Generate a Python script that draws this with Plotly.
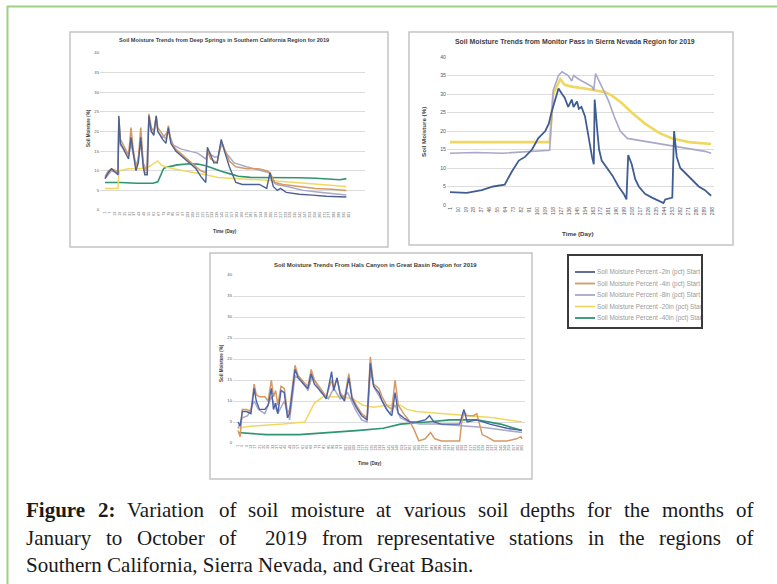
import plotly.graph_objects as go

W, H = 777, 584

# ---------------- DATA ----------------
series_names = ["Soil Moisture Percent -2in (pct) Start of Day Values",
                "Soil Moisture Percent -4in (pct) Start of Day Values",
                "Soil Moisture Percent -8in (pct) Start of Day Values",
                "Soil Moisture Percent -20in (pct) Start of Day Values",
                "Soil Moisture Percent -40in (pct) Start of Day Values"]
y_ticks = [0, 5, 10, 15, 20, 25, 30, 35, 40]

# Panel 1: Deep Springs (Southern California)
ds_days_2in = [1,5,9,15,17,18,20,25,30,33,36,39,42,45,48,50,53,55,58,61,64,66,72,76,79,82,88,96,105,113,119,125,127,131,135,139,144,148,154,162,170,191,200,204,208,213,217,224,240,256,273,298]
ds_2in = [8,9.5,10.5,9.5,9,24,17,15,13,18.5,14,10,12,18.5,11,9,9,24,20,19,24,20,18,17,21,17,15,13.5,12,10.5,8.5,7,16,14,12,12,18,15,11,7,6.5,6.5,5.5,9.5,6,5,5.5,4.5,4,3.8,3.5,3.3]
ds_days_4in = [1,5,9,15,17,18,20,25,30,33,36,39,42,45,48,50,53,55,58,61,64,66,72,76,79,82,88,96,105,113,119,125,127,131,135,139,144,148,154,162,175,190,200,204,210,220,240,260,280,298]
ds_4in = [8.5,10,10.5,10,9.5,23.5,18,16,14,21,15,11,13,21,12,9.5,9.5,24.5,21,20,24,21,19,18,21.5,17.5,15.5,14,12.5,11,10,9.5,15,13,12.5,12,17.5,15.5,12.5,11,10.5,10.5,10,9.5,7,6.5,6,5.5,5.3,5]
ds_days_8in = [1,5,9,15,17,18,20,25,30,33,36,40,45,48,52,55,58,61,64,66,72,79,85,95,105,115,125,128,132,136,140,145,150,160,175,195,203,206,212,225,245,265,285,298]
ds_8in = [8,9,10,9.5,9,22,16.5,15.5,14,17,14,11,17,12,10,23,20,19.5,23,20,18.5,20,16.5,15.5,15,14.5,13,15,14,13.5,13.5,17,14.5,12,11,10,9.5,7.5,6.5,6,5,4.5,4,3.8]
ds_days_20in = [1,10,17,18,19,30,45,55,62,66,70,75,85,100,115,125,140,160,180,200,220,240,260,280,298]
ds_20in = [5.5,5.5,5.5,9,10,10.5,10.5,11,12,12.5,11.5,11,10.5,10,9.5,9,8.3,8,7.8,7.6,7.3,7,6.7,6.3,6]
ds_days_40in = [1,20,40,60,66,70,73,75,80,90,105,115,125,135,145,155,165,180,200,220,240,260,270,280,290,298]
ds_40in = [7,7,6.8,6.8,7.2,9,10.5,10.8,11,11.5,11.8,11.7,11.3,10.5,9.8,9.2,8.6,8.3,8.3,8.3,8.2,8.1,8,7.8,7.7,8]
ds_xticks = list(range(1, 302, 6))

# Panel 2: Monitor Pass (Sierra Nevada)
mp_days_2in = [1,20,37,50,63,71,79,86,94,101,109,113,116,120,124,128,131,135,139,141,145,147,150,154,158,162,164,165,168,170,173,185,192,198,201,203,207,211,215,222,230,239,243,245,251,253,255,258,262,268,275,283,290,297]
mp_2in = [3.5,3.3,4,5,5.5,9,12,13,15,18,20,22,25,28,31.5,30,29,26.5,28.5,26.5,28,26,26.5,24,18,13,11,28.5,20,15,12,8,5,3,1.5,13.5,11,7,5,3,2,1,0.5,1.5,2,2,20,13,10,8.5,7,5,4,2.5]
mp_days_8in = [1,30,60,90,114,118,124,128,135,139,141,147,154,162,164,166,169,175,181,187,194,202,215,230,241,253,268,279,290,297]
mp_8in = [14,14.2,14,14.5,14.8,31,35,36,35,33.5,35,34,33,32,31,35.5,34,31,28,24,20,18,17.5,17,16.5,16,15.5,15,14.5,14]
mp_days_20in = [1,60,114,118,124,126,131,139,154,167,177,185,196,207,222,238,253,272,297]
mp_20in = [17,17,17,30,33,34,32.5,32,31.5,31,30.5,29.5,27.5,25,22,19.5,18,17,16.5]
mp_xticks = list(range(1, 299, 9))

# Panel 3: Hals Canyon (Great Basin)
hc_days_2in = [1,3,5,9,13,16,18,21,26,29,32,34,36,38,41,44,47,49,54,57,62,66,69,72,79,83,88,90,93,96,100,104,107,111,116,121,124,127,132,135,139,144,147,150,155,161,167,175,179,183,190,198,207,211,214,223,235,251,265]
hc_2in = [5,4,7.5,7.5,7,13,10,8,8,9,13,8,9.5,7,12.5,12,6,7,17.5,15.5,14,13,16.5,14,12,10.5,17,12.5,15.5,11.5,10,15.5,10.5,8.5,6.5,5.5,19,13.5,12,10,8,6.5,12,7,6,5,5,5.5,6.5,5,4.5,4.5,4.5,8,5,5.5,4.5,3.5,3]
hc_days_4in = [1,3,5,9,13,16,18,21,26,29,32,34,36,38,41,44,47,49,54,57,62,66,69,72,79,83,88,90,93,96,100,104,107,111,116,121,124,127,132,135,139,144,147,150,155,161,165,169,175,180,184,190,198,207,209,211,214,220,223,228,232,239,251,260,264,265]
hc_4in = [3,1.5,8,8,7.5,14,11.5,11,11,10,15,11,12.5,9,13.5,13,7,8,18.5,16,14.5,13.5,17.5,15,12.5,11,15,13,15.5,12,10.5,16.5,11,9,7,6,20.5,14,13,11,9,8,15,9,7,5,3,0.5,1,2.5,1,0.5,0.5,0.5,5,7.5,6.5,6.5,7,2,1.5,0.5,0.5,1,1.5,1]
hc_days_8in = [1,5,10,16,20,26,32,38,44,49,54,60,66,70,78,85,90,96,103,110,116,121,124,128,135,142,147,152,160,170,185,200,215,230,250,265]
hc_8in = [3.5,6,6.5,10,8,7,11,7,10,5.5,16,15,12.5,16,12,10.5,13,10.5,12,8,5.5,5,17,13,10,7,9,6,5,4.5,4.5,4.3,4,3.7,3,2.5]
hc_days_20in = [1,12,43,63,67,72,80,99,108,117,127,139,152,158,167,189,214,239,265]
hc_20in = [3.5,4,4.5,5,7,9.5,11,11,10.5,9,8.5,9,9,8,7.5,7,6.5,6,5]
hc_days_40in = [1,27,58,90,114,136,152,177,198,223,245,265]
hc_40in = [2.5,2,2,2.5,3,3.5,4.5,5,5.5,5.5,4.5,3]
hc_xticks = list(range(1, 266, 4))

panel_titles = ["Soil Moisture Trends from Deep Springs in Southern California Region for 2019",
                "Soil Moisture Trends from Monitor Pass in Sierra Nevada Region for 2019",
                "Soil Moisture Trends From Hals Canyon in Great Basin Region for 2019"]
x_title = "Time (Day)"
y_title = "Soil Moisture (%)"
caption_label = "Figure 2:"
caption_lines = ["Variation of soil moisture at various soil depths for the months of",
                 "January to October of  2019 from representative stations in the regions of",
                 "Southern California, Sierra Nevada, and Great Basin."]

# ---------------- STYLE ----------------
C2, C4, C8, C20, C40 = "#4d6190", "#d49a66", "#aaa8c8", "#f0d860", "#2f9470"
colors = [C2, C4, C8, C20, C40]
GRID = "#dcdcdc"
TXT = "#595959"
FONT = "Liberation Sans"
SERIF = "Liberation Serif"

def fx(x):
    return x / W

def fy(y):
    return 1 - y / H

fig = go.Figure()

def add(days, vals, axis, color, width, name):
    fig.add_trace(go.Scatter(x=days, y=vals, mode="lines", xaxis="x" + axis, yaxis="y" + axis,
                             line=dict(color=color, width=width), name=name, showlegend=False,
                             hoverinfo="skip"))

# panel 1
add(ds_days_40in, ds_40in, "", C40, 1.6, series_names[4])
add(ds_days_20in, ds_20in, "", C20, 1.5, series_names[3])
add(ds_days_8in, ds_8in, "", C8, 1.5, series_names[2])
add(ds_days_4in, ds_4in, "", C4, 1.5, series_names[1])
add(ds_days_2in, ds_2in, "", C2, 1.4, series_names[0])
# panel 2
add(mp_days_20in, mp_20in, "2", C20, 2.6, series_names[3])
add(mp_days_8in, mp_8in, "2", C8, 1.6, series_names[2])
add(mp_days_2in, mp_2in, "2", "#3f5c93", 1.8, series_names[0])
# panel 3
add(hc_days_40in, hc_40in, "3", C40, 1.6, series_names[4])
add(hc_days_20in, hc_20in, "3", C20, 1.5, series_names[3])
add(hc_days_8in, hc_8in, "3", C8, 1.5, series_names[2])
add(hc_days_4in, hc_4in, "3", C4, 1.5, series_names[1])
add(hc_days_2in, hc_2in, "3", "#4a62a8", 1.4, series_names[0])

def xaxis(x0, x1, rng, ticks, fs, anchor):
    return dict(domain=[fx(x0), fx(x1)], range=rng, tickvals=ticks, ticktext=[str(t) for t in ticks],
                tickangle=-90, tickfont=dict(size=fs, color=TXT, family=FONT), showgrid=False,
                zeroline=False, showline=False, ticks="", automargin=False, fixedrange=True,
                anchor=anchor)

def yaxis(ytop, ybot, anchor, fs):
    return dict(domain=[fy(ybot), fy(ytop)], range=[0, 40], tickvals=y_ticks,
                tickfont=dict(size=fs, color=TXT, family=FONT), showgrid=True, gridcolor=GRID,
                gridwidth=1, zeroline=False, showline=False, ticks="", automargin=False,
                anchor=anchor, fixedrange=True)

p1 = (348 - 105) / 299
p2 = (712 - 450) / 297
p3 = (522 - 238) / 264

fig.update_layout(
    width=W, height=H, margin=dict(l=0, r=0, t=0, b=0),
    paper_bgcolor="white", plot_bgcolor="white", showlegend=False,
    xaxis=xaxis(100, 365, [1 - 5 / p1, 300 + 17 / p1], ds_xticks, 3.6, "y"),
    yaxis=yaxis(53, 210, "x", 4.2),
    xaxis2=xaxis(447, 714, [1 - 3 / p2, 298 + 2 / p2], mp_xticks, 5, "y2"),
    yaxis2=yaxis(57, 205, "x2", 5.2),
    xaxis3=xaxis(233, 525, [1 - 5 / p3, 265 + 3 / p3], hc_xticks, 3.6, "y3"),
    yaxis3=yaxis(275, 443, "x3", 4.2),
)

shapes = []
ann = []

# green outer border
shapes.append(dict(type="line", xref="paper", yref="paper", x0=fx(7.5), x1=fx(7.5), y0=fy(6), y1=fy(590),
                   line=dict(color="#9dcf84", width=2)))
shapes.append(dict(type="line", xref="paper", yref="paper", x0=fx(7), x1=fx(790), y0=fy(6.5), y1=fy(6.5),
                   line=dict(color="#9dcf84", width=2)))

# panel boxes
for (x0, y0, x1, y1) in [(70, 32, 388, 247), (409, 32, 733, 245), (210, 253, 532, 479)]:
    shapes.append(dict(type="rect", xref="paper", yref="paper", x0=fx(x0), x1=fx(x1), y0=fy(y1), y1=fy(y0),
                       line=dict(color="#c4c4c4", width=1.5), fillcolor="rgba(0,0,0,0)"))

def text(x, y, s, size, color=TXT, bold=False, angle=0, family=FONT, xanchor="center", width=None):
    d = dict(x=fx(x), y=fy(y), xref="paper", yref="paper", showarrow=False,
             text=("<b>%s</b>" % s) if bold else s, textangle=angle,
             font=dict(size=size, color=color, family=family),
             xanchor=xanchor, yanchor="middle")
    if width is not None:
        d["width"] = width
        d["align"] = "left"
    ann.append(d)

text(224, 40, panel_titles[0], 5.6, "#404040", True)
text(575, 42, panel_titles[1], 6.9, "#404040", True)
text(375, 265, panel_titles[2], 6.0, "#404040", True)
text(225, 231, x_title, 4.6, "#404040", True)
text(578, 233, x_title, 6.2, "#404040", True)
text(370, 463, x_title, 4.6, "#404040", True)
text(88, 128, y_title, 4.6, "#404040", True, -90)
text(423, 132, y_title, 6.2, "#404040", True, -90)
text(221, 363, y_title, 4.6, "#404040", True, -90)

# legend box
shapes.append(dict(type="rect", xref="paper", yref="paper", x0=fx(568), x1=fx(702), y0=fy(328), y1=fy(255),
                   line=dict(color="#3a3a3a", width=2), fillcolor="white"))
for i, (nm, col) in enumerate(zip(series_names, colors)):
    yy = 272 + 11.5 * i
    shapes.append(dict(type="line", xref="paper", yref="paper", x0=fx(575), x1=fx(595), y0=fy(yy), y1=fy(yy),
                       line=dict(color=col, width=1.8)))
    text(595, yy, nm, 6.4, "#9a9a9a", False, 0, FONT, "left", 104)

# caption: justified lines using Times-compatible advance widths (Liberation Serif)
REG = dict(zip("abcdefghijklmnopqrstuvwxyz",
               [444,500,444,500,444,333,500,500,278,278,500,278,778,500,500,500,500,333,389,278,500,500,722,500,500,444]))
REG.update(dict(zip("ABCDEFGHIJKLMNOPQRSTUVWXYZ",
               [722,667,667,722,611,556,722,722,333,389,722,611,889,722,722,556,722,667,556,611,722,722,944,722,722,611])))
REG.update({d: 500 for d in "0123456789"})
REG.update({",": 250, ".": 250, ":": 278, " ": 250})
BOLD = dict(REG)
BOLD.update({"F": 611, "i": 278, "g": 500, "u": 556, "r": 444, "e": 444, "2": 500, ":": 333})

CAP_SIZE = 21
X_LEFT, X_RIGHT = 25, 752

def wlen(word, table):
    return sum(table.get(c, 500) for c in word) * CAP_SIZE / 1000.0

def place_words(tokens, y, justify):
    widths = [wlen(w, BOLD if b else REG) for w, b in tokens]
    gaps = len(tokens) - 1
    space = REG[" "] * CAP_SIZE / 1000.0
    if justify and gaps > 0:
        space = (X_RIGHT - X_LEFT - sum(widths)) / gaps
    x = X_LEFT
    for (w, b), wd in zip(tokens, widths):
        if w:
            ann.append(dict(x=fx(x - 1), y=fy(y), xref="paper", yref="paper", showarrow=False,
                            text=("<b>%s</b>" % w) if b else w,
                            font=dict(size=CAP_SIZE, color="#1a1a1a", family=SERIF),
                            xanchor="left", yanchor="middle"))
        x += wd + space

first = [(w, True) for w in caption_label.split(" ")] + [(w, False) for w in caption_lines[0].split(" ")]
second = [(w, False) for w in caption_lines[1].split(" ")]
place_words(first, 510, True)
place_words(second, 537.5, True)
ann.append(dict(x=fx(X_LEFT - 1), y=fy(565), xref="paper", yref="paper", showarrow=False,
                text=caption_lines[2], font=dict(size=CAP_SIZE, color="#1a1a1a", family=SERIF),
                xanchor="left", yanchor="middle"))

fig.update_layout(shapes=shapes, annotations=ann)
fig.write_html("out.html")
